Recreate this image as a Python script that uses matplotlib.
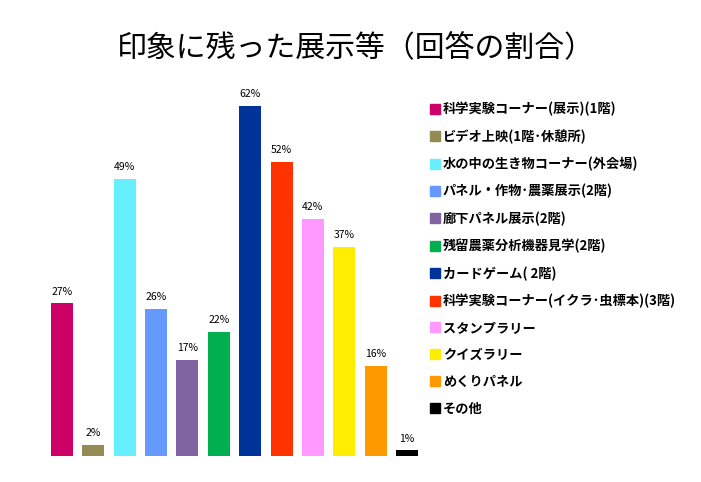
import matplotlib.pyplot as plt
from matplotlib.lines import Line2D

plt.rcParams['font.family'] = ['Noto Sans CJK JP', 'DejaVu Sans']

# data
labels = ['科学実験コーナー(展示)(1階)', 'ビデオ上映(1階･休憩所)', '水の中の生き物コーナー(外会場)',
          'パネル・作物･農薬展示(2階)', '廊下パネル展示(2階)', '残留農薬分析機器見学(2階)',
          'カードゲーム( 2階)', '科学実験コーナー(イクラ･虫標本)(3階)', 'スタンプラリー',
          'クイズラリー', 'めくりパネル', 'その他']
values = [27, 2, 49, 26, 17, 22, 62, 52, 42, 37, 16, 1]
colors = ['#CC0066', '#948A54', '#66F0FF', '#6699FF', '#8064A2', '#00B050',
          '#003399', '#FF3300', '#FF99FF', '#FFEE00', '#FF9900', '#000000']

fig = plt.figure(figsize=(7.01, 4.82), dpi=100)
ax = fig.add_axes([0.066, 0.054, 0.537, 0.762])

x = range(len(values))
ax.bar(x, values, width=0.7, color=colors)
for i, v in enumerate(values):
    ax.text(i, v + 1.2, f'{v}%', ha='center', va='bottom', fontsize=7.5)

ax.set_xlim(-0.5, 11.5)
ax.set_ylim(0, 65)
ax.axis('off')

fig.text(0.507, 0.899, '印象に残った展示等（回答の割合）', ha='center', va='center', fontsize=21.5)

handles = [Line2D([], [], marker='s', linestyle='none', markersize=6.5,
                  markerfacecolor=c, markeredgecolor=c) for c in colors]
fig.legend(handles, labels, loc='upper left', bbox_to_anchor=(0.598, 0.813),
           frameon=False, handlelength=0.6, handletextpad=0.3,
           labelspacing=0.98, prop={'size': 9.5, 'weight': 'bold'})

fig.savefig('out.png', dpi=100)
